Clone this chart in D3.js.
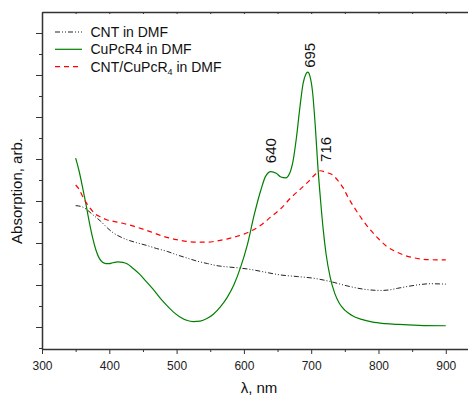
<!DOCTYPE html>
<html>
<head>
<meta charset="utf-8">
<script src="https://cdn.jsdelivr.net/npm/d3@7"></script>
<style>
    body { margin: 0; background: #fff; }
    svg { display: block; font-family: Arial, "Liberation Sans", sans-serif; }
    .axis path, .axis line { stroke: #333; }
    .axis text { fill: #222; font-size: 12px; }
</style>
</head>
<body>
<div id="chartdiv"></div>
<script>
/*global d3 */

//wavelength (nm) and absorption (arb.)
var cntNm = [350, 360, 367, 375, 387, 397, 406, 416, 426, 440, 456, 470,
             486, 500, 516, 530, 546, 560, 576, 590, 610, 630, 654, 680,
             704, 729, 753, 778, 803, 815, 828, 845, 857, 877, 900];
var cntAbs = [2.89, 2.86, 2.79, 2.68, 2.52, 2.36, 2.24, 2.15, 2.08, 2.01,
              1.94, 1.87, 1.80, 1.72, 1.64, 1.57, 1.51, 1.46, 1.43, 1.41,
              1.37, 1.31, 1.24, 1.20, 1.16, 1.08, 0.98, 0.90, 0.87, 0.88,
              0.92, 0.97, 1.00, 1.03, 1.02];

var cupcNm = [350, 355, 360, 365, 370, 375, 380, 385, 390, 395, 400, 405,
              413, 420, 427, 435, 445, 455, 465, 475, 485, 495, 505, 515,
              525, 535, 545, 555, 565, 575, 585, 595, 605, 615, 625, 632,
              640, 648, 655, 662, 668, 673, 678, 683, 688, 692, 695, 698,
              702, 706, 710, 714, 718, 722, 728, 735, 742, 750, 760, 775,
              790, 810, 830, 860, 900];
var cupcAbs = [4.02, 3.72, 3.35, 2.95, 2.52, 2.14, 1.84, 1.64, 1.54, 1.51,
               1.51, 1.53, 1.55, 1.54, 1.50, 1.40, 1.26, 1.08, 0.90, 0.70,
               0.52, 0.36, 0.24, 0.16, 0.13, 0.14, 0.20, 0.31, 0.48, 0.70,
               1.00, 1.42, 1.95, 2.65, 3.25, 3.58, 3.70, 3.66, 3.57, 3.55,
               3.66, 3.95, 4.50, 5.20, 5.80, 6.02, 6.07, 5.98, 5.60, 4.80,
               3.80, 3.00, 2.30, 1.75, 1.20, 0.80, 0.56, 0.40, 0.28, 0.18,
               0.12, 0.08, 0.06, 0.04, 0.03];

var mixNm = [350, 355, 360, 365, 370, 375, 380, 387, 395, 405, 420, 436,
             450, 466, 480, 500, 515, 530, 546, 560, 576, 590, 600, 610,
             625, 640, 655, 670, 685, 695, 705, 714, 722, 732, 740, 748,
             755, 763, 775, 788, 800, 813, 825, 838, 852, 867, 885, 900];
var mixAbs = [3.38, 3.28, 3.12, 2.98, 2.86, 2.76, 2.68, 2.62, 2.56, 2.52,
              2.47, 2.40, 2.33, 2.24, 2.16, 2.08, 2.04, 2.02, 2.02, 2.05,
              2.10, 2.16, 2.21, 2.28, 2.42, 2.62, 2.82, 3.08, 3.30, 3.45,
              3.62, 3.72, 3.68, 3.62, 3.48, 3.30, 3.08, 2.87, 2.58, 2.31,
              2.10, 1.91, 1.80, 1.71, 1.65, 1.61, 1.60, 1.60];

var seriesNames = ["CNT in DMF", "CuPcR4 in DMF", "CNT/CuPcR4 in DMF"];
var xTicks = [300, 400, 500, 600, 700, 800, 900];
var xMinorTicks = [350, 450, 550, 650, 750, 850];
var yTicks = [0, 1, 2, 3, 4, 5, 6, 7];
var yMinorTicks = [-0.5, 0.5, 1.5, 2.5, 3.5, 4.5, 5.5, 6.5];

//peak labels: wavelength, bottom of text in data units
var peakNm = [640, 695, 716];
var peakTextAt = [3.90, 6.17, 3.93];
var peakShift = [5, 7, 9];


(function () {
    "use strict";

    var ch = {w: 468, h: 396,
              margin: {top: 12, right: 0, bottom: 47, left: 42}};

    function zipSeries (xs, ys) {
        return xs.map(function (x, i) { return {x: x, y: ys[i]}; });
    }


    function drawAxes () {
        var top = ch.svg.append("g").attr("class", "axis");
        ch.svg.append("g")
            .attr("class", "axis")
            .attr("transform", "translate(0," + ch.y.range()[0] + ")")
            .call(d3.axisBottom(ch.x).tickValues(xTicks)
                  .tickSizeInner(5).tickSizeOuter(0).tickPadding(7))
            .call(function (g) {
                g.select(".domain").attr("stroke-width", 1.5); });
        ch.svg.append("g")
            .attr("class", "axis")
            .attr("transform", "translate(0," + ch.y.range()[0] + ")")
            .call(d3.axisBottom(ch.x).tickValues(xMinorTicks)
                  .tickSizeInner(3).tickSizeOuter(0).tickFormat(""))
            .call(function (g) { g.select(".domain").remove(); });
        ch.svg.append("g")
            .attr("class", "axis")
            .attr("transform", "translate(" + ch.margin.left + ",0)")
            .call(d3.axisLeft(ch.y).tickValues(yTicks)
                  .tickSizeInner(6).tickSizeOuter(0).tickFormat(""))
            .call(function (g) {
                g.select(".domain").attr("stroke-width", 1.5); });
        ch.svg.append("g")
            .attr("class", "axis")
            .attr("transform", "translate(" + ch.margin.left + ",0)")
            .call(d3.axisLeft(ch.y).tickValues(yMinorTicks)
                  .tickSizeInner(3).tickSizeOuter(0).tickFormat(""))
            .call(function (g) { g.select(".domain").remove(); });
        //top frame line with small inward ticks
        top.attr("transform", "translate(0," + ch.margin.top + ")")
            .call(d3.axisTop(ch.x).tickValues(xTicks.concat(xMinorTicks))
                  .tickSizeInner(-2).tickSizeOuter(0).tickFormat(""))
            .call(function (g) {
                g.select(".domain").attr("stroke-width", 1.5); });
    }


    function drawSeries () {
        var line = d3.line()
            .x(function (d) { return ch.x(d.x); })
            .y(function (d) { return ch.y(d.y); })
            .curve(d3.curveMonotoneX);
        ch.series = [
            {pts: zipSeries(cntNm, cntAbs), color: "#222",
             dash: "5,2,1,2,1,2", sw: 1},
            {pts: zipSeries(cupcNm, cupcAbs), color: "#008000",
             dash: null, sw: 1.2},
            {pts: zipSeries(mixNm, mixAbs), color: "#ff0000",
             dash: "5,4", sw: 1.2}];
        ch.svg.selectAll("path.curve")
            .data(ch.series)
            .enter().append("path")
            .attr("class", "curve")
            .attr("fill", "none")
            .attr("stroke", function (d) { return d.color; })
            .attr("stroke-width", function (d) { return d.sw; })
            .attr("stroke-dasharray", function (d) { return d.dash; })
            .attr("d", function (d) { return line(d.pts); });
    }


    function drawLegend () {
        var leg = ch.svg.append("g").attr("class", "legend"),
            rows = leg.selectAll("g")
                .data(ch.series)
                .enter().append("g")
                .attr("transform", function (d, i) {
                    return "translate(55," + (32 + i * 17.3) + ")"; });
        rows.append("line")
            .attr("x1", 0).attr("x2", 27)
            .attr("stroke", function (d) { return d.color; })
            .attr("stroke-width", function (d) { return d.sw; })
            .attr("stroke-dasharray", function (d) { return d.dash; });
        rows.append("text")
            .attr("x", 35.5)
            .attr("y", 5)
            .attr("font-size", "14px")
            .attr("fill", "#111")
            .each(function (d, i) {
                var t = d3.select(this), name = seriesNames[i];
                if(i === 2) {  //subscript 4 in the composite name
                    t.append("tspan").text("CNT/CuPcR");
                    t.append("tspan").attr("dy", 3)
                        .attr("font-size", "9px").text("4");
                    t.append("tspan").attr("dy", -3).text(" in DMF"); }
                else {
                    t.text(name); } });
    }


    function drawLabels () {
        ch.svg.selectAll("text.peak")
            .data(peakNm)
            .enter().append("text")
            .attr("class", "peak")
            .attr("font-size", "15px")
            .attr("fill", "#111")
            .attr("transform", function (d, i) {
                return "translate(" + (ch.x(d) + peakShift[i]) + "," +
                    ch.y(peakTextAt[i]) + ") rotate(-90)"; })
            .text(function (d) { return String(d); });
        ch.svg.append("text")
            .attr("text-anchor", "middle")
            .attr("font-size", "15px")
            .attr("fill", "#111")
            .attr("transform", "translate(22,191) rotate(-90)")
            .text("Absorption, arb.");
        ch.svg.append("text")
            .attr("text-anchor", "middle")
            .attr("font-size", "15px")
            .attr("fill", "#111")
            .attr("x", 259)
            .attr("y", 393)
            .text("\u03bb, nm");
    }


    function display () {
        ch.svg = d3.select("#chartdiv").append("svg")
            .attr("width", ch.w)
            .attr("height", ch.h);
        //frame runs off the right edge, past 900 nm
        ch.x = d3.scaleLinear().domain([300, 933])
            .range([ch.margin.left, ch.w - ch.margin.right]);
        ch.y = d3.scaleLinear().domain([-0.524, 7.5])
            .range([ch.h - ch.margin.bottom, ch.margin.top]);
        drawAxes();
        drawSeries();
        drawLegend();
        drawLabels();
    }

    display();
}());
</script>
</body>
</html>
